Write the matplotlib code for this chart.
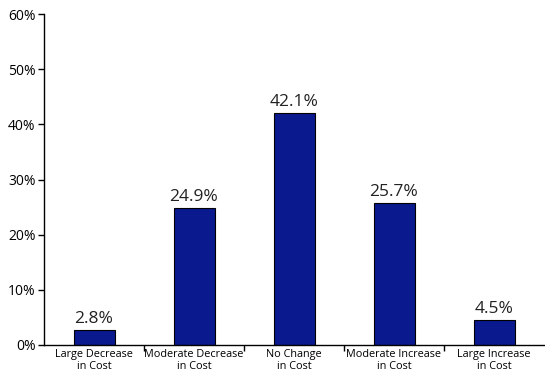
import matplotlib.pyplot as plt
import numpy as np

plt.rcParams['font.family'] = ['Open Sans', 'DejaVu Sans']

categories = ['Large Decrease\nin Cost', 'Moderate Decrease\nin Cost', 'No Change\nin Cost',
              'Moderate Increase\nin Cost', 'Large Increase\nin Cost']
values = [2.8, 24.9, 42.1, 25.7, 4.5]
y_ticks = [0, 10, 20, 30, 40, 50, 60]

fig = plt.figure(figsize=(5.45, 3.79), dpi=100)
ax = fig.add_axes([44 / 545, 34 / 379, 500 / 545, 331 / 379])

x = np.arange(len(categories))
bars = ax.bar(x, values, width=0.41, color='#0a1a8e', edgecolor='black', linewidth=0.8)

# value labels just above each bar
for xi, v in zip(x, values):
    ax.annotate(f'{v:.1f}%', (xi, v), xytext=(0, 2), textcoords='offset points',
                ha='center', va='bottom', fontsize=12.5, color='#222222')

ax.set_xlim(-0.5, len(categories) - 0.5)
ax.set_ylim(0, 60)
ax.set_yticks(y_ticks)
ax.set_yticklabels([f'{t}%' for t in y_ticks], fontsize=10)
ax.tick_params(axis='y', length=4, width=1, pad=2)

# category names at centers, separator ticks between categories
ax.set_xticks(x)
ax.set_xticklabels(categories, fontsize=7.8, linespacing=1.15)
ax.tick_params(axis='x', which='major', length=0, pad=3)
ax.set_xticks(np.arange(0.5, len(categories) - 0.5), minor=True)
ax.tick_params(axis='x', which='minor', length=4, width=1)

ax.spines['top'].set_visible(False)
ax.spines['right'].set_visible(False)
ax.spines['left'].set_linewidth(1)
ax.spines['bottom'].set_linewidth(1)

fig.savefig('out.png', dpi=100)
